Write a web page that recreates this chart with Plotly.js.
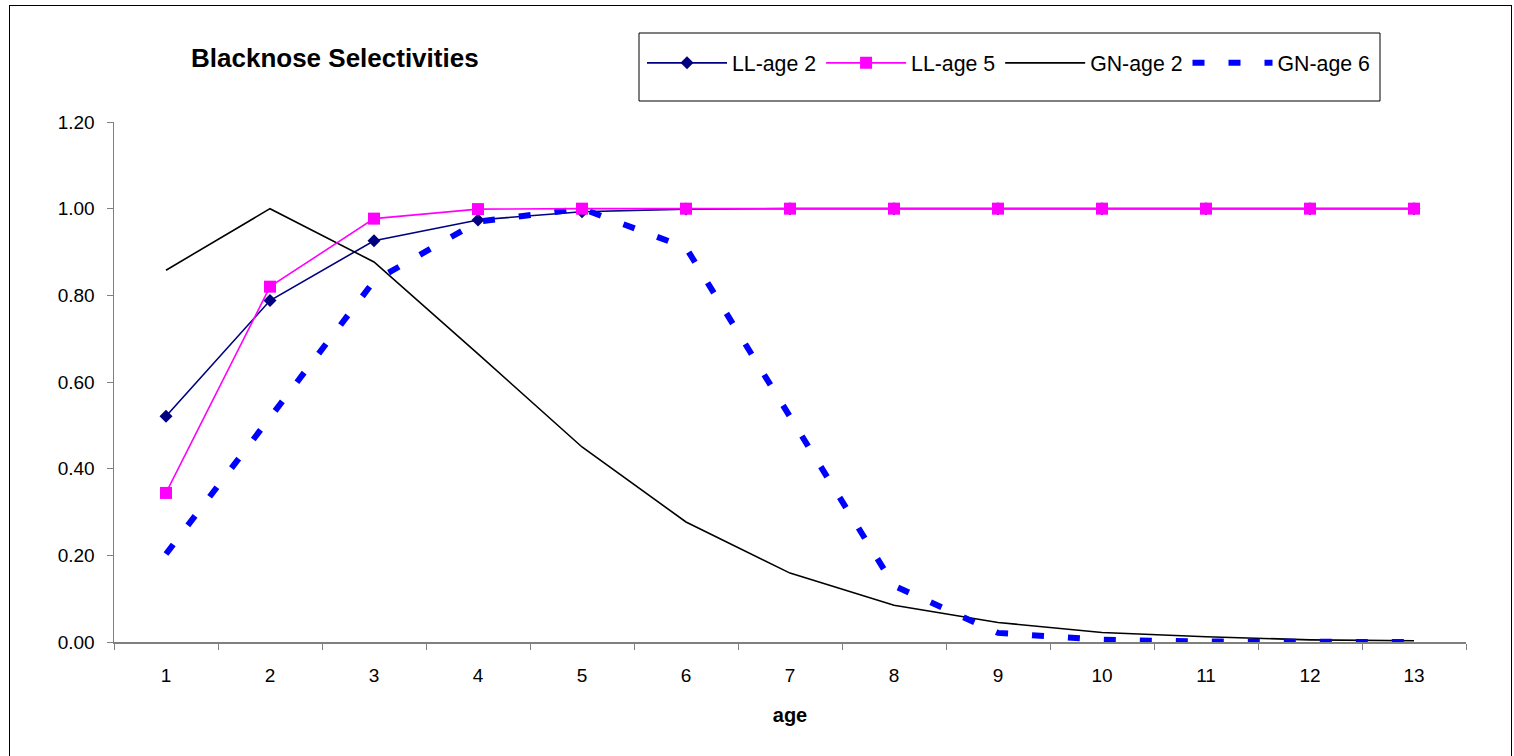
<!DOCTYPE html>
<html>
<head>
<meta charset="utf-8">
<script src="https://cdn.plot.ly/plotly-3.0.1.min.js"></script>
<style>
  html, body { margin: 0; padding: 0; background: #fff; }
  #wrap { position: relative; width: 1514px; height: 756px; overflow: hidden; }
  #chart { width: 1514px; height: 756px; }
  #frame { position: absolute; left: 9px; top: 5px; width: 1503px; height: 800px;
           border: 1px solid #000; pointer-events: none; box-sizing: border-box; }
</style>
</head>
<body>
<div id="wrap">
  <div id="chart"></div>
  <div id="frame"></div>
</div>
<script>
// ---- data ----
const ages = ['1','2','3','4','5','6','7','8','9','10','11','12','13'];
const llAge2 = [0.521, 0.788, 0.926, 0.974, 0.993, 0.999, 1.000, 1.000, 1.000, 1.000, 1.000, 1.000, 1.000];
const llAge5 = [0.344, 0.820, 0.977, 0.999, 1.000, 1.000, 1.000, 1.000, 1.000, 1.000, 1.000, 1.000, 1.000];
const gnAge2 = [0.858, 1.000, 0.877, 0.665, 0.450, 0.277, 0.159, 0.085, 0.045, 0.022, 0.012, 0.005, 0.003];
const gnAge6 = [0.203, 0.516, 0.833, 0.970, 1.000, 0.910, 0.520, 0.130, 0.021, 0.005, 0.001, 0.000, 0.000];
const yTicks = [0, 0.2, 0.4, 0.6, 0.8, 1.0, 1.2];
const seriesNames = ['LL-age 2', 'LL-age 5', 'GN-age 2', 'GN-age 6'];

const FONT = 'Liberation Sans, Arial, sans-serif';

const traces = [
  { x: ages, y: llAge2, name: seriesNames[0], type: 'scatter', mode: 'lines+markers', legendrank: 1,
    line: { color: '#000080', width: 1.6 },
    marker: { symbol: 'diamond', size: 10, color: '#000080' } },
  { x: ages, y: gnAge2, name: seriesNames[2], type: 'scatter', mode: 'lines', legendrank: 3,
    line: { color: '#000000', width: 1.6 } },
  { x: ages, y: gnAge6, name: seriesNames[3], type: 'scatter', mode: 'lines', legendrank: 4,
    line: { color: '#0000FF', width: 6, dash: '12px,24px' } },
  { x: ages, y: llAge5, name: seriesNames[1], type: 'scatter', mode: 'lines+markers', legendrank: 2,
    line: { color: '#FF00FF', width: 1.6 },
    marker: { symbol: 'square', size: 12, color: '#FF00FF' } }
];

const plotL = 114, plotR = 1466, plotT = 122, plotB = 642;
const W = 1514, H = 756;
const px2paperX = p => (p - plotL) / (plotR - plotL);
const px2paperY = p => (plotB - p) / (plotB - plotT);

const layout = {
  width: W, height: H,
  margin: { l: plotL, r: W - plotR, t: plotT, b: H - plotB, pad: 0 },
  paper_bgcolor: '#ffffff', plot_bgcolor: '#ffffff',
  font: { family: FONT, color: '#000000', size: 19 },
  showlegend: true,
  title: { text: '<b>Blacknose Selectivities</b>', font: { family: FONT, size: 26, color: '#000' },
           xref: 'container', yref: 'container', x: 191 / W, xanchor: 'left', y: 1 - 58 / H, yanchor: 'middle' },
  xaxis: {
    type: 'category', range: [-0.5, ages.length - 0.5], autorange: false,
    tickson: 'boundaries', ticks: 'outside', ticklen: 6, tickcolor: '#808080', tickwidth: 1,
    showline: true, linecolor: '#808080', linewidth: 1.5, showgrid: false, zeroline: false,
    ticklabelstandoff: 16, tickfont: { size: 19 },
    title: { text: '<b>age</b>', font: { size: 20 }, standoff: 22 }
  },
  yaxis: {
    range: [0, 1.2], autorange: false, tickvals: yTicks, tickformat: '.2f', ticks: 'outside', ticklen: 6,
    tickcolor: '#808080', tickwidth: 1, showline: true, linecolor: '#808080', linewidth: 1.5,
    showgrid: false, zeroline: false, ticklabelstandoff: 8, tickfont: { size: 19 }
  },
  legend: {
    orientation: 'h', x: px2paperX(642), xanchor: 'left', y: px2paperY(63), yanchor: 'middle',
    bgcolor: 'rgba(0,0,0,0)', borderwidth: 0, font: { size: 21.3 }, itemwidth: 80,
    traceorder: 'normal'
  },
  shapes: [
    { type: 'rect', xref: 'paper', yref: 'paper', x0: px2paperX(639), x1: px2paperX(1380),
      y0: px2paperY(101), y1: px2paperY(33), line: { color: '#000', width: 1 }, fillcolor: '#fff', layer: 'below' }
  ]
};

Plotly.newPlot('chart', traces, layout, { displayModeBar: false, staticPlot: true });
</script>
</body>
</html>
